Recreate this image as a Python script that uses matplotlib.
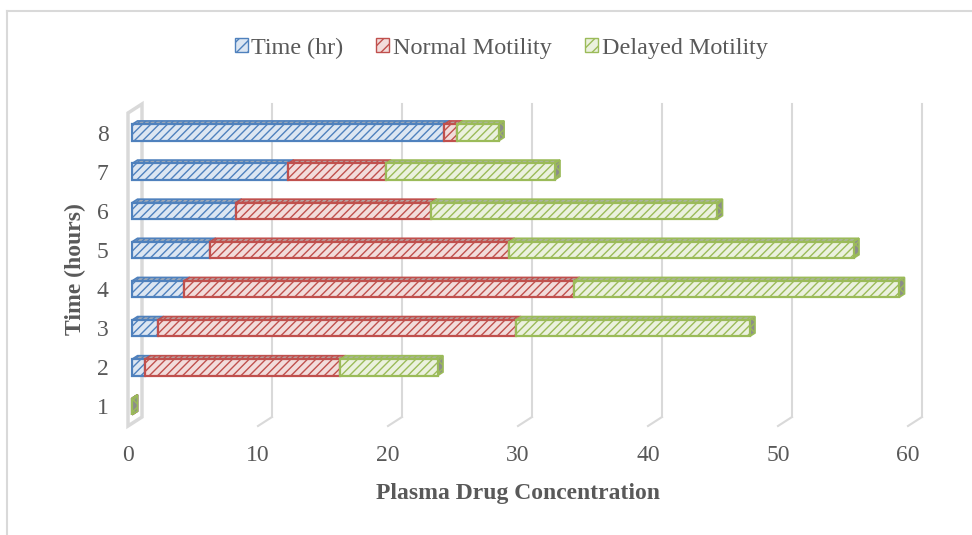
import matplotlib.pyplot as plt
from matplotlib.patches import Polygon, Patch
from matplotlib.lines import Line2D

plt.rcParams['font.family'] = ['Liberation Serif', 'DejaVu Serif']
plt.rcParams['hatch.linewidth'] = 1.0

# data
rows = [1, 2, 3, 4, 5, 6, 7, 8]
time_hr = [0, 1, 2, 4, 6, 8, 12, 24]
normal_motility = [0, 15, 27.5, 30, 23, 15, 7.5, 1]
delayed_motility = [0, 7.5, 18, 25, 26.5, 22, 13, 3.2]
series_names = ['Time (hr)', 'Normal Motility', 'Delayed Motility']
x_ticks = [0, 10, 20, 30, 40, 50, 60]

edge_cols = ['#4f81bd', '#c0504d', '#9bbb59']
face_cols = ['#dce6f2', '#f2dcdb', '#ebf1de']
top_cols = ['#a3abb6', '#b5a5a5', '#abb39f']
grid_col = '#d9d9d9'
text_col = '#595959'

W, H = 972, 535
fig = plt.figure(figsize=(W / 100, H / 100), dpi=100)

# front plane of the 3D box, in pixels
left_px, right_px, top_px, bot_px = 128, 908, 113, 426
ax = fig.add_axes([left_px / W, 1 - bot_px / H, (right_px - left_px) / W, (bot_px - top_px) / H])
ax.set_xlim(0, 60)
ax.set_ylim(0.5, 8.5)
for s in ax.spines.values():
    s.set_visible(False)

sx = (right_px - left_px) / 60.0   # px per unit
sy = (bot_px - top_px) / 8.0       # px per row
DX, DY = 14 / sx, 9 / sy           # full depth offset in data units

# back wall gridlines + floor slants
for v in x_ticks[1:]:
    ax.plot([v + DX, v + DX], [0.5 + DY, 8.5 + DY], color=grid_col, lw=1.5, clip_on=False, zorder=1)
    ax.plot([v, v + DX], [0.5, 0.5 + DY], color=grid_col, lw=1.5, clip_on=False, zorder=1)

# left side wall
wall = Polygon([(0, 0.5), (0, 8.5), (DX, 8.5 + DY), (DX, 0.5 + DY)], closed=True,
               facecolor='none', edgecolor=grid_col, lw=2.5, clip_on=False, zorder=1)
ax.add_patch(wall)

# 3D bars
f1, bd = 0.3, 0.38
ox = f1 * DX
bdx, bdy = bd * DX, bd * DY
h = 0.42
series = [time_hr, normal_motility, delayed_motility]
for i, r in enumerate(rows):
    start = 0
    for k, vals in enumerate(series):
        w = vals[i]
        x0, x1 = start + ox, start + w + ox
        y0, y1 = r - h / 2, r + h / 2
        z = 3 + i * 0.01
        top = Polygon([(x0, y1), (x1, y1), (x1 + bdx, y1 + bdy), (x0 + bdx, y1 + bdy)], closed=True,
                      facecolor=top_cols[k], edgecolor=edge_cols[k], hatch='//////', lw=1.2,
                      clip_on=False, zorder=z)
        front = Polygon([(x0, y0), (x1, y0), (x1, y1), (x0, y1)], closed=True,
                        facecolor=face_cols[k], edgecolor=edge_cols[k], hatch='////', lw=1.6,
                        clip_on=False, zorder=z)
        end = Polygon([(x1, y0), (x1, y1), (x1 + bdx, y1 + bdy), (x1 + bdx, y0 + bdy)], closed=True,
                      facecolor='#8c8c8c', edgecolor=edge_cols[k], hatch='xxx', lw=1.2,
                      clip_on=False, zorder=z)
        ax.add_patch(top)
        ax.add_patch(end)
        ax.add_patch(front)
        start += w

ax.set_xticks(x_ticks)
ax.set_yticks(rows)
ax.tick_params(axis='both', length=0, labelsize=17, labelcolor=text_col)
ax.tick_params(axis='x', pad=14)
ax.tick_params(axis='y', pad=14)
ax.set_xlabel('Plasma Drug Concentration', fontsize=17, fontweight='bold', color=text_col, labelpad=12)
ax.set_ylabel('Time (hours)', fontsize=17, fontweight='bold', color=text_col, labelpad=8)

handles = [Patch(facecolor=face_cols[k], edgecolor=edge_cols[k], hatch='///', label=series_names[k])
           for k in range(3)]
fig.legend(handles=handles, loc='center', bbox_to_anchor=(501 / W, 1 - 48 / H), ncol=3, frameon=False,
           fontsize=17.4, labelcolor=text_col, handlelength=0.55, handleheight=0.55, handletextpad=0.15,
           columnspacing=1.35)

# chart border (left and top edges visible)
fig.add_artist(Line2D([7 / W, 7 / W], [0, 1 - 11 / H], color=grid_col, lw=1.5))
fig.add_artist(Line2D([7 / W, 1], [1 - 11 / H, 1 - 11 / H], color=grid_col, lw=1.5))

fig.savefig('out.png', dpi=100)
